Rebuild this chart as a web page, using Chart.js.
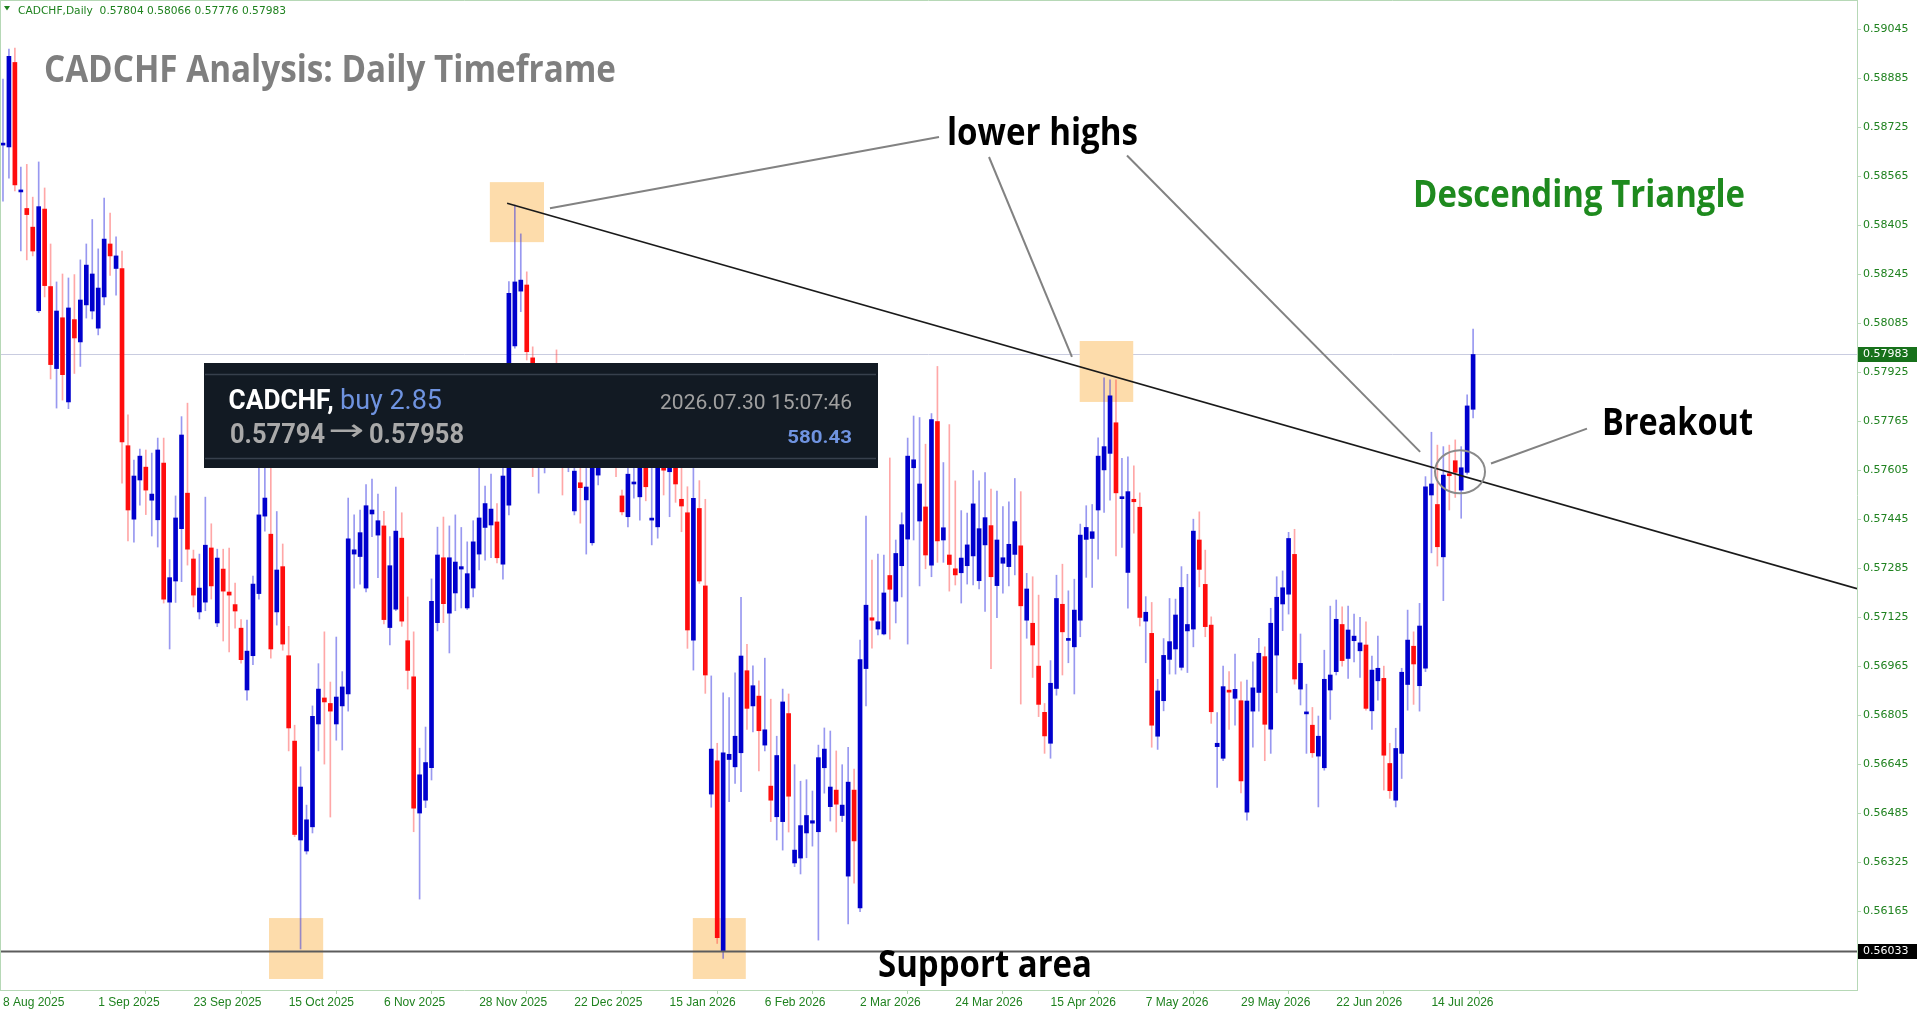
<!DOCTYPE html>
<html>
<head>
<meta charset="utf-8">
<title>CADCHF Daily</title>
<script src="https://cdn.jsdelivr.net/npm/chart.js@4.4.1/dist/chart.umd.min.js"></script>
<style>
  html, body { margin: 0; padding: 0; background: #fff; }
  canvas { display: block; }
</style>
</head>
<body>
<canvas id="chart" width="1920" height="1010"></canvas>
<script>
// daily candles, oldest first
const opens = [
  0.58667, 0.58661, 0.58937, 0.58514, 0.58460, 0.58399, 0.58126, 0.58458, 0.58205, 0.57937,
  0.58103, 0.57828, 0.58097, 0.58024, 0.58145, 0.58125, 0.58069, 0.58171, 0.58344, 0.58264,
  0.58264, 0.57685, 0.57445, 0.57573, 0.57615, 0.57507, 0.57443, 0.57628, 0.57174, 0.57243,
  0.57414, 0.57530, 0.57315, 0.57142, 0.57174, 0.57351, 0.57106, 0.57282, 0.57207, 0.57166,
  0.57089, 0.56887, 0.56999, 0.57202, 0.57455, 0.57396, 0.57142, 0.57290, 0.56999, 0.56720,
  0.56397, 0.56361, 0.56440, 0.56776, 0.56861, 0.56843, 0.56776, 0.56835, 0.56874, 0.57331,
  0.57323, 0.57220, 0.57462, 0.57393, 0.57423, 0.57091, 0.57151, 0.57383, 0.57048, 0.56930,
  0.56485, 0.56527, 0.56633, 0.57107, 0.57319, 0.57138, 0.57204, 0.57282, 0.57155, 0.57220,
  0.57331, 0.57418, 0.57426, 0.57436, 0.57298, 0.57491, 0.58011, 0.58190, 0.58210, 0.57972,
  0.57650, 0.57700, 0.57820, 0.57900, 0.57780, 0.57650, 0.57472, 0.57564, 0.57508, 0.57368,
  0.57589, 0.57700, 0.57750, 0.57700, 0.57521, 0.57453, 0.57560, 0.57518, 0.57660, 0.57442,
  0.57420, 0.57640, 0.57600, 0.57640, 0.57510, 0.57466, 0.57050, 0.57480, 0.57227, 0.56547,
  0.56656, 0.56035, 0.56660, 0.56636, 0.56682, 0.56950, 0.56835, 0.56867, 0.56707, 0.56573,
  0.56473, 0.56457, 0.56810, 0.56322, 0.56338, 0.56420, 0.56452, 0.56424, 0.56633, 0.56506,
  0.56560, 0.56477, 0.56279, 0.56560, 0.56175, 0.56957, 0.57123, 0.57086, 0.57070, 0.57261,
  0.57177, 0.57293, 0.57380, 0.57613, 0.57439, 0.57485, 0.57295, 0.57764, 0.57377, 0.57328,
  0.57283, 0.57270, 0.57293, 0.57325, 0.57244, 0.57361, 0.57424, 0.57228, 0.57301, 0.57290,
  0.57330, 0.57358, 0.57115, 0.57105, 0.56965, 0.56814, 0.56713, 0.56892, 0.57167, 0.57049,
  0.57028, 0.57115, 0.57379, 0.57382, 0.57475, 0.57606, 0.57660, 0.57760, 0.57512, 0.57271,
  0.57510, 0.57484, 0.57112, 0.57072, 0.56736, 0.56852, 0.56987, 0.57021, 0.56961, 0.57080,
  0.57086, 0.57377, 0.57232, 0.57099, 0.56702, 0.56664, 0.56885, 0.56860, 0.56852, 0.56488,
  0.56818, 0.56879, 0.56996, 0.56759, 0.57001, 0.57168, 0.57200, 0.57330, 0.56890, 0.56809,
  0.56772, 0.56671, 0.56633, 0.56887, 0.56947, 0.57101, 0.56990, 0.57048, 0.57015, 0.57034,
  0.56819, 0.56917, 0.56925, 0.56647, 0.56527, 0.56680, 0.56905, 0.57030, 0.56901, 0.56958,
  0.57524, 0.57493, 0.57322, 0.57591, 0.57636, 0.57540, 0.57598, 0.57804
];
const highs = [
  0.58883, 0.58981, 0.58984, 0.58595, 0.58604, 0.58497, 0.58612, 0.58527, 0.58344, 0.58220,
  0.58246, 0.58233, 0.58244, 0.58292, 0.58344, 0.58424, 0.58328, 0.58494, 0.58445, 0.58367,
  0.58321, 0.57786, 0.57638, 0.57674, 0.57671, 0.57661, 0.57710, 0.57710, 0.57313, 0.57521,
  0.57780, 0.57824, 0.57344, 0.57331, 0.57517, 0.57430, 0.57347, 0.57347, 0.57351, 0.57236,
  0.57117, 0.57115, 0.57259, 0.57613, 0.57648, 0.57613, 0.57470, 0.57364, 0.57095, 0.56772,
  0.56636, 0.56511, 0.56835, 0.56973, 0.57077, 0.56913, 0.57060, 0.56947, 0.57514, 0.57459,
  0.57475, 0.57558, 0.57576, 0.57527, 0.57471, 0.57388, 0.57550, 0.57466, 0.57191, 0.57077,
  0.56697, 0.56766, 0.57250, 0.57419, 0.57452, 0.57423, 0.57459, 0.57418, 0.57371, 0.57440,
  0.57613, 0.57553, 0.57592, 0.57496, 0.57625, 0.58221, 0.58471, 0.58377, 0.58253, 0.58008,
  0.57850, 0.57900, 0.57880, 0.57998, 0.57850, 0.57780, 0.57700, 0.57680, 0.57680, 0.57780,
  0.57760, 0.57820, 0.57800, 0.57780, 0.57540, 0.57650, 0.57640, 0.57720, 0.57730, 0.57620,
  0.57700, 0.57700, 0.57720, 0.57700, 0.57620, 0.57551, 0.57619, 0.57571, 0.57510, 0.56933,
  0.56713, 0.56878, 0.56862, 0.56943, 0.57190, 0.57036, 0.56966, 0.56917, 0.56991, 0.56857,
  0.56736, 0.56890, 0.56874, 0.56643, 0.56589, 0.56594, 0.56557, 0.56707, 0.56763, 0.56753,
  0.56688, 0.56643, 0.56700, 0.56629, 0.57050, 0.57455, 0.57311, 0.57331, 0.57328, 0.57645,
  0.57377, 0.57466, 0.57710, 0.57782, 0.57777, 0.57690, 0.57790, 0.57944, 0.57630, 0.57754,
  0.57570, 0.57473, 0.57465, 0.57604, 0.57570, 0.57597, 0.57543, 0.57537, 0.57486, 0.57502,
  0.57578, 0.57535, 0.57268, 0.57257, 0.57197, 0.56843, 0.56983, 0.57262, 0.57298, 0.57211,
  0.57249, 0.57429, 0.57489, 0.57493, 0.57711, 0.57907, 0.57900, 0.57900, 0.57644, 0.57649,
  0.57619, 0.57531, 0.57192, 0.57173, 0.56922, 0.57055, 0.57186, 0.57184, 0.57290, 0.57265,
  0.57445, 0.57469, 0.57344, 0.57126, 0.56813, 0.56965, 0.56947, 0.57004, 0.56914, 0.56919,
  0.56979, 0.57056, 0.57028, 0.57154, 0.57257, 0.57276, 0.57402, 0.57412, 0.57070, 0.56906,
  0.56830, 0.56802, 0.57017, 0.57161, 0.57181, 0.57159, 0.57161, 0.57135, 0.57124, 0.57110,
  0.56998, 0.57063, 0.56965, 0.56713, 0.56762, 0.56958, 0.57148, 0.57077, 0.57170, 0.57584,
  0.57729, 0.57687, 0.57682, 0.57687, 0.57704, 0.57682, 0.57851, 0.58066
];
const lows = [
  0.58484, 0.58559, 0.58517, 0.58321, 0.58292, 0.58305, 0.58120, 0.58171, 0.57903, 0.57808,
  0.57834, 0.57806, 0.57921, 0.57944, 0.58102, 0.58099, 0.58047, 0.58145, 0.58241, 0.58177,
  0.57563, 0.57374, 0.57370, 0.57491, 0.57460, 0.57390, 0.57354, 0.57171, 0.57021, 0.57173,
  0.57241, 0.57295, 0.57158, 0.57119, 0.57146, 0.57184, 0.57094, 0.57047, 0.57011, 0.57089,
  0.56975, 0.56854, 0.56970, 0.57184, 0.57406, 0.56991, 0.57099, 0.57017, 0.56688, 0.56408,
  0.56041, 0.56351, 0.56420, 0.56688, 0.56645, 0.56472, 0.56723, 0.56691, 0.56818, 0.57220,
  0.57233, 0.57207, 0.57388, 0.57254, 0.57103, 0.57034, 0.57146, 0.57095, 0.56890, 0.56424,
  0.56204, 0.56503, 0.56593, 0.57080, 0.57107, 0.57008, 0.57146, 0.57155, 0.57150, 0.57191,
  0.57279, 0.57311, 0.57319, 0.57302, 0.57249, 0.57459, 0.58004, 0.58123, 0.57965, 0.57584,
  0.57530, 0.57596, 0.57660, 0.57680, 0.57524, 0.57600, 0.57459, 0.57432, 0.57331, 0.57360,
  0.57557, 0.57640, 0.57630, 0.57584, 0.57459, 0.57420, 0.57514, 0.57442, 0.57505, 0.57361,
  0.57383, 0.57524, 0.57453, 0.57500, 0.57404, 0.57023, 0.56952, 0.57235, 0.56876, 0.56504,
  0.56059, 0.56010, 0.56522, 0.56582, 0.56555, 0.56758, 0.56750, 0.56623, 0.56688, 0.56457,
  0.56397, 0.56364, 0.56423, 0.56310, 0.56286, 0.56339, 0.56377, 0.56070, 0.56550, 0.56459,
  0.56423, 0.56457, 0.56123, 0.56256, 0.56163, 0.56835, 0.57024, 0.57067, 0.57067, 0.57053,
  0.57106, 0.57191, 0.57037, 0.57377, 0.57227, 0.57283, 0.57257, 0.57304, 0.57304, 0.57210,
  0.57230, 0.57171, 0.57233, 0.57230, 0.57217, 0.57144, 0.56957, 0.57123, 0.57203, 0.57227,
  0.57263, 0.56841, 0.57056, 0.56928, 0.56800, 0.56680, 0.56664, 0.56870, 0.56936, 0.56976,
  0.56874, 0.57061, 0.57255, 0.57222, 0.57314, 0.57467, 0.57507, 0.57325, 0.57353, 0.57154,
  0.57399, 0.57096, 0.56976, 0.56700, 0.56693, 0.56819, 0.56939, 0.56939, 0.56952, 0.56944,
  0.57028, 0.57224, 0.57061, 0.56778, 0.56569, 0.56656, 0.56758, 0.56772, 0.56551, 0.56462,
  0.56700, 0.56818, 0.56656, 0.56680, 0.56878, 0.57081, 0.57135, 0.56906, 0.56838, 0.56680,
  0.56667, 0.56505, 0.56625, 0.56791, 0.56936, 0.56965, 0.56925, 0.56979, 0.56928, 0.56821,
  0.56758, 0.56854, 0.56560, 0.56533, 0.56505, 0.56598, 0.56821, 0.56840, 0.56818, 0.56947,
  0.57335, 0.57292, 0.57179, 0.57475, 0.57516, 0.57448, 0.57592, 0.57776
];
const closes = [
  0.58673, 0.58957, 0.58537, 0.58520, 0.58440, 0.58321, 0.58466, 0.58208, 0.57950, 0.58125,
  0.57917, 0.58135, 0.58037, 0.58161, 0.58275, 0.58246, 0.58200, 0.58360, 0.58305, 0.58305,
  0.57697, 0.57475, 0.57586, 0.57651, 0.57540, 0.57527, 0.57671, 0.57184, 0.57254, 0.57449,
  0.57720, 0.57347, 0.57197, 0.57220, 0.57360, 0.57227, 0.57318, 0.57210, 0.57197, 0.57145,
  0.56986, 0.57014, 0.57233, 0.57459, 0.57514, 0.57021, 0.57279, 0.57037, 0.56763, 0.56415,
  0.56570, 0.56463, 0.56801, 0.56890, 0.56848, 0.56818, 0.56864, 0.56897, 0.57381, 0.57345,
  0.57401, 0.57489, 0.57475, 0.57440, 0.57117, 0.57293, 0.57406, 0.57112, 0.56951, 0.56501,
  0.56610, 0.56650, 0.57177, 0.57328, 0.57169, 0.57319, 0.57305, 0.57290, 0.57267, 0.57371,
  0.57449, 0.57496, 0.57478, 0.57319, 0.57586, 0.58183, 0.58220, 0.58226, 0.57992, 0.57769,
  0.57780, 0.57820, 0.57760, 0.57780, 0.57650, 0.57700, 0.57602, 0.57548, 0.57550, 0.57700,
  0.57700, 0.57750, 0.57680, 0.57630, 0.57469, 0.57592, 0.57564, 0.57650, 0.57551, 0.57448,
  0.57640, 0.57605, 0.57640, 0.57560, 0.57488, 0.57083, 0.57513, 0.57243, 0.56936, 0.56694,
  0.56078, 0.56682, 0.56677, 0.56736, 0.56998, 0.56827, 0.56901, 0.56754, 0.56757, 0.56527,
  0.56673, 0.56848, 0.56540, 0.56364, 0.56444, 0.56477, 0.56460, 0.56666, 0.56694, 0.56570,
  0.56514, 0.56511, 0.56586, 0.56394, 0.56986, 0.57164, 0.57115, 0.57110, 0.57204, 0.57216,
  0.57333, 0.57427, 0.57651, 0.57639, 0.57560, 0.57328, 0.57770, 0.57374, 0.57417, 0.57297,
  0.57263, 0.57318, 0.57361, 0.57495, 0.57414, 0.57450, 0.57257, 0.57377, 0.57319, 0.57363,
  0.57437, 0.57162, 0.57217, 0.57034, 0.56840, 0.56737, 0.56909, 0.57186, 0.57077, 0.57055,
  0.57148, 0.57393, 0.57418, 0.57404, 0.57651, 0.57682, 0.57848, 0.57531, 0.57518, 0.57535,
  0.57502, 0.57124, 0.57141, 0.56772, 0.56884, 0.57000, 0.57045, 0.57132, 0.57222, 0.57101,
  0.57406, 0.57281, 0.57094, 0.56816, 0.56713, 0.56898, 0.56880, 0.56889, 0.56590, 0.56851,
  0.56894, 0.57007, 0.56775, 0.57105, 0.57190, 0.57221, 0.57382, 0.56923, 0.56974, 0.56815,
  0.56682, 0.56736, 0.56922, 0.56936, 0.57118, 0.56983, 0.57083, 0.57063, 0.57041, 0.56827,
  0.56952, 0.56958, 0.56674, 0.56558, 0.56696, 0.56945, 0.57050, 0.56972, 0.57096, 0.57551,
  0.57560, 0.57355, 0.57589, 0.57587, 0.57598, 0.57613, 0.57815, 0.57983
];

// time axis: bar index of each date label
const dateTickBars = [0, 16, 32, 48, 64, 80, 96, 112, 128, 144, 160, 176, 192, 208, 224, 240];
const dateTickLabels = [
  "8 Aug 2025", "1 Sep 2025", "23 Sep 2025", "15 Oct 2025", "6 Nov 2025", "28 Nov 2025",
  "22 Dec 2025", "15 Jan 2026", "6 Feb 2026", "2 Mar 2026", "24 Mar 2026", "15 Apr 2026",
  "7 May 2026", "29 May 2026", "22 Jun 2026", "14 Jul 2026"
];
const priceTicks = [
  0.59045, 0.58885, 0.58725, 0.58565, 0.58405, 0.58245, 0.58085, 0.57925, 0.57765, 0.57605,
  0.57445, 0.57285, 0.57125, 0.56965, 0.56805, 0.56645, 0.56485, 0.56325, 0.56165
];
const supportLevel = 0.56033;

// chart window
const slotCount = 312;          // bars that fit across the window
const priceTop = 0.59141;
const priceBottom = 0.55907;

const bullBody = '#0000cd', bearBody = '#ff0d0d';
const bullWick = 'rgba(50,50,225,0.5)', bearWick = 'rgba(255,60,60,0.45)';
const axisText = '#1f821f';
const frameColor = '#b6d8b6';

const isBull = opens.map((o, i) => closes[i] >= o);

// annotation objects, in bar index / price
const zones = [
  { from: 81.8, to: 90.9, top: 0.58546, bottom: 0.58350 },
  { from: 180.9, to: 189.9, top: 0.58027, bottom: 0.57828 },
  { from: 44.7, to: 53.8, top: 0.56142, bottom: 0.55943 },
  { from: 115.9, to: 124.8, top: 0.56142, bottom: 0.55943 }
];
const trend = [{ bar: 84.7, price: 0.58477 }, { bar: 247, price: 0.57576 }];
const breakout = { bar: 244.8, price: 0.57600 };

function seg(ctx, x1, y1, x2, y2) {
  ctx.beginPath();
  ctx.moveTo(x1, y1);
  ctx.lineTo(x2, y2);
  ctx.stroke();
}

// draws text squeezed/stretched to a given width
function fitText(ctx, text, x, baseline, font, color, width, alignRight) {
  ctx.save();
  ctx.font = font;
  ctx.fillStyle = color;
  ctx.textBaseline = 'alphabetic';
  ctx.textAlign = 'left';
  const natural = ctx.measureText(text).width;
  ctx.translate(alignRight ? x - width : x, baseline);
  ctx.scale(width / natural, 1);
  ctx.fillText(text, 0, 0);
  ctx.restore();
}

function priceTag(ctx, area, yPix, text, bg) {
  ctx.fillStyle = bg;
  ctx.fillRect(area.right + 1, Math.round(yPix) - 7, 59, 15);
  ctx.fillStyle = '#ffffff';
  ctx.font = '11px "DejaVu Sans"';
  ctx.textBaseline = 'middle';
  ctx.textAlign = 'left';
  ctx.fillText(text, area.right + 6, Math.round(yPix) + 0.5);
}

const notes = {
  id: 'notes',
  beforeDatasetsDraw(chart) {
    const { ctx, chartArea: a, scales: { x, y } } = chart;
    ctx.save();
    const py = Math.round(y.getPixelForValue(closes[closes.length - 1])) + 0.5;
    ctx.strokeStyle = '#c9cce0';
    ctx.lineWidth = 1;
    seg(ctx, a.left, py, a.right, py);
    ctx.fillStyle = '#fddcab';
    zones.forEach(z => {
      const x0 = x.getPixelForValue(z.from), x1 = x.getPixelForValue(z.to);
      const y0 = y.getPixelForValue(z.top), y1 = y.getPixelForValue(z.bottom);
      ctx.fillRect(x0, y0, x1 - x0, y1 - y0);
    });
    ctx.restore();
  },
  afterDatasetsDraw(chart) {
    const { ctx, chartArea: a, scales: { x, y } } = chart;
    ctx.save();
    ctx.beginPath();
    ctx.rect(a.left, a.top, a.right - a.left, a.bottom - a.top);
    ctx.clip();

    // support line
    const sy = y.getPixelForValue(supportLevel);
    ctx.strokeStyle = '#5c5c5c';
    ctx.lineWidth = 2;
    seg(ctx, a.left, sy, a.right, sy);

    // descending trend line, extended as a ray
    const tx1 = x.getPixelForValue(trend[0].bar), ty1 = y.getPixelForValue(trend[0].price);
    const tx2 = x.getPixelForValue(trend[1].bar), ty2 = y.getPixelForValue(trend[1].price);
    const slope = (ty2 - ty1) / (tx2 - tx1);
    ctx.strokeStyle = '#1a1a1a';
    ctx.lineWidth = 1.6;
    seg(ctx, tx1, ty1, a.right, ty1 + slope * (a.right - tx1));

    // pointers from the labels
    ctx.strokeStyle = '#828282';
    ctx.lineWidth = 2;
    seg(ctx, 939, 137, x.getPixelForValue(91.9), y.getPixelForValue(0.58461));
    seg(ctx, 989, 157, x.getPixelForValue(179.6), y.getPixelForValue(0.57975));
    seg(ctx, 1127, 155.5, x.getPixelForValue(238.1), y.getPixelForValue(0.57665));
    seg(ctx, x.getPixelForValue(250.0), y.getPixelForValue(0.57627), 1587, 428.6);

    // ring round the breakout
    ctx.strokeStyle = '#8a8a8a';
    ctx.lineWidth = 2;
    ctx.beginPath();
    ctx.ellipse(x.getPixelForValue(breakout.bar), y.getPixelForValue(breakout.price), 25, 21.5, 0, 0, Math.PI * 2);
    ctx.stroke();
    ctx.restore();
  },
  afterDraw(chart) {
    const { ctx, chartArea: a, scales: { y } } = chart;
    ctx.save();

    // frame top and left
    ctx.strokeStyle = frameColor;
    ctx.lineWidth = 1;
    seg(ctx, a.left, a.top + 0.5, a.right, a.top + 0.5);
    seg(ctx, a.left + 0.5, a.top, a.left + 0.5, a.bottom);

    // symbol header
    const last = closes.length - 1;
    ctx.fillStyle = axisText;
    ctx.beginPath();
    ctx.moveTo(4, 6); ctx.lineTo(10, 6); ctx.lineTo(7, 10.5); ctx.closePath();
    ctx.fill();
    const head = 'CADCHF,Daily  ' + [opens[last], highs[last], lows[last], closes[last]].map(v => v.toFixed(5)).join(' ');
    fitText(ctx, head, 18, 14, '10px "DejaVu Sans"', axisText, 268);

    // titles and labels
    fitText(ctx, 'CADCHF Analysis: Daily Timeframe', 44, 82, 'bold 38px "Open Sans"', '#7f7f7f', 572);
    fitText(ctx, 'lower highs', 947, 144.5, 'bold 37px "Open Sans"', '#000000', 191);
    fitText(ctx, 'Descending Triangle', 1413, 207, 'bold 37px "Open Sans"', '#1e8a1e', 332);
    fitText(ctx, 'Breakout', 1602, 434.5, 'bold 37px "Open Sans"', '#000000', 151);
    fitText(ctx, 'Support area', 878, 977, 'bold 37px "Open Sans"', '#000000', 214);

    // trade panel
    ctx.fillStyle = '#121a23';
    ctx.fillRect(204, 363, 674, 105);
    ctx.strokeStyle = '#37404c';
    ctx.lineWidth = 1.5;
    seg(ctx, 205, 374.5, 876, 374.5);
    seg(ctx, 205, 458.5, 876, 458.5);
    fitText(ctx, 'CADCHF,', 228.6, 409.3, 'bold 28px Roboto', '#ffffff', 105);
    fitText(ctx, 'buy 2.85', 340, 409.3, '28px Roboto', '#6f93e0', 102);
    fitText(ctx, '2026.07.30 15:07:46', 852, 409.3, '20px Roboto', '#a0a0a0', 192, true);
    fitText(ctx, '0.57794', 230, 442.7, 'bold 27px Roboto', '#a9a9a9', 95);
    fitText(ctx, '\u2192', 328, 440, '30px "DejaVu Sans"', '#a9a9a9', 36);
    fitText(ctx, '0.57958', 369, 442.7, 'bold 27px Roboto', '#a9a9a9', 95);
    fitText(ctx, '580.43', 852, 442.7, 'bold 18px Roboto', '#6f93e0', 64.7, true);

    // price tags on the axis
    priceTag(ctx, a, y.getPixelForValue(closes[last]), closes[last].toFixed(5), '#17711b');
    priceTag(ctx, a, y.getPixelForValue(supportLevel), supportLevel.toFixed(5), '#000000');
    ctx.restore();
  }
};

new Chart(document.getElementById('chart'), {
  type: 'bar',
  data: {
    labels: Array.from({ length: slotCount }, (_, i) => i),
    datasets: [
      {
        label: 'body',
        data: opens.map((o, i) => [o, closes[i]]),
        backgroundColor: isBull.map(b => b ? bullBody : bearBody),
        barThickness: 4,
        minBarLength: 2,
        grouped: false,
        borderWidth: 0
      },
      {
        label: 'wick',
        data: lows.map((l, i) => [l, highs[i]]),
        backgroundColor: isBull.map(b => b ? bullWick : bearWick),
        barThickness: 1,
        grouped: false,
        borderWidth: 0
      }
    ]
  },
  options: {
    responsive: false,
    devicePixelRatio: 1,
    animation: false,
    layout: { padding: 0 },
    plugins: {
      legend: { display: false },
      tooltip: { enabled: false }
    },
    scales: {
      x: {
        type: 'category',
        offset: true,
        afterBuildTicks: s => { s.ticks = dateTickBars.map(v => ({ value: v })); },
        afterFit: s => { s.height = 20; s.paddingLeft = 0; s.paddingRight = 0; },
        ticks: {
          autoSkip: false,
          maxRotation: 0,
          minRotation: 0,
          align: 'start',
          padding: 1,
          color: axisText,
          font: { family: 'Liberation Sans', size: 12 },
          callback: v => dateTickLabels[dateTickBars.indexOf(v)]
        },
        grid: { drawOnChartArea: false, drawTicks: true, tickLength: 4, color: frameColor },
        border: { color: frameColor }
      },
      y: {
        position: 'right',
        min: priceBottom,
        max: priceTop,
        afterBuildTicks: s => { s.ticks = priceTicks.map(v => ({ value: v })); },
        afterFit: s => { s.width = 63; s.paddingTop = 0; s.paddingBottom = 0; },
        ticks: {
          padding: 2,
          color: axisText,
          font: { family: 'DejaVu Sans', size: 11 },
          callback: v => v.toFixed(5)
        },
        grid: { drawOnChartArea: false, tickLength: 4, color: frameColor },
        border: { color: frameColor }
      }
    }
  },
  plugins: [notes]
});
</script>
</body>
</html>
